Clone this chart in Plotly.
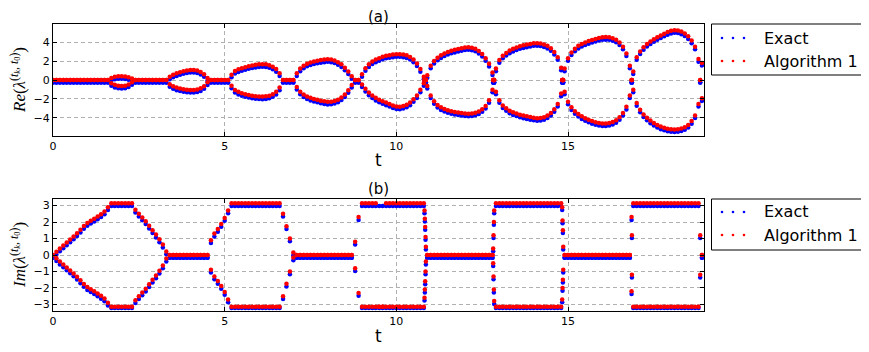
import numpy as np
import plotly.graph_objects as go

# sample times (step 0.1) and extra samples where the eigenvalues jump
T = np.round(np.arange(190) * 0.1, 2)

RE_EXACT_UP = [
    -0.27, -0.27, -0.27, -0.27, -0.27, -0.27, -0.27, -0.27, -0.27, -0.27,
    -0.27, -0.27, -0.27, -0.27, -0.27, -0.27, -0.27, -0.05, 0.08, 0.12,
    0.12, 0.10, 0.02, -0.12, -0.27, -0.27, -0.27, -0.27, -0.27, -0.27,
    -0.27, -0.27, -0.27, -0.27, 0.08, 0.28, 0.43, 0.55, 0.65, 0.73,
    0.78, 0.78, 0.73, 0.58, 0.33, -0.07, -0.27, -0.27, -0.27, -0.27,
    -0.27, -0.27, 0.28, 0.68, 0.85, 0.98, 1.08, 1.18, 1.26, 1.33,
    1.38, 1.40, 1.38, 1.28, 1.13, 0.88, 0.43, -0.27, -0.27, -0.27,
    -0.27, 0.43, 0.93, 1.23, 1.45, 1.58, 1.68, 1.76, 1.83, 1.88,
    1.91, 1.88, 1.78, 1.61, 1.38, 1.03, 0.63, 0.13, -0.27, -0.27,
    0.33, 0.98, 1.38, 1.68, 1.88, 2.03, 2.18, 2.28, 2.35, 2.41,
    2.45, 2.45, 2.41, 2.33, 2.15, 1.88, 1.48, 0.88, 0.08, 0.23,
    1.23, 1.73, 2.08, 2.33, 2.53, 2.68, 2.81, 2.91, 3.00, 3.08,
    3.15, 3.18, 3.13, 3.03, 2.78, 2.48, 2.03, 1.43, 0.53, 0.93,
    1.83, 2.28, 2.58, 2.83, 3.01, 3.15, 3.28, 3.38, 3.46, 3.53,
    3.60, 3.61, 3.58, 3.48, 3.33, 3.08, 2.68, 2.13, 1.03, 0.93,
    2.03, 2.63, 3.03, 3.33, 3.53, 3.68, 3.83, 3.95, 4.05, 4.15,
    4.23, 4.25, 4.23, 4.13, 3.98, 3.68, 3.23, 2.53, 1.23, 0.63,
    2.13, 2.73, 3.18, 3.53, 3.78, 4.03, 4.23, 4.43, 4.61, 4.78,
    4.91, 4.98, 4.95, 4.83, 4.63, 4.33, 3.88, 3.23, 1.93, 1.53,
]
RE_EXACT_LO = [
    -0.27, -0.27, -0.27, -0.27, -0.27, -0.27, -0.27, -0.27, -0.27, -0.27,
    -0.27, -0.27, -0.27, -0.27, -0.27, -0.27, -0.27, -0.60, -0.78, -0.88,
    -0.90, -0.87, -0.75, -0.50, -0.27, -0.27, -0.27, -0.27, -0.27, -0.27,
    -0.27, -0.27, -0.27, -0.27, -0.72, -0.92, -1.07, -1.17, -1.25, -1.29,
    -1.32, -1.32, -1.27, -1.15, -0.92, -0.52, -0.27, -0.27, -0.27, -0.27,
    -0.27, -0.27, -0.87, -1.32, -1.52, -1.67, -1.77, -1.85, -1.92, -1.97,
    -2.00, -2.02, -1.99, -1.92, -1.77, -1.52, -1.07, -0.27, -0.27, -0.27,
    -0.27, -1.00, -1.50, -1.80, -2.00, -2.15, -2.27, -2.35, -2.45, -2.52,
    -2.57, -2.55, -2.48, -2.35, -2.12, -1.80, -1.35, -0.80, -0.27, -0.27,
    -0.75, -1.20, -1.60, -1.90, -2.15, -2.35, -2.50, -2.65, -2.80, -2.95,
    -3.05, -3.08, -3.00, -2.88, -2.65, -2.30, -1.90, -1.30, -0.60, -0.90,
    -1.90, -2.50, -2.90, -3.15, -3.32, -3.45, -3.55, -3.63, -3.70, -3.75,
    -3.80, -3.82, -3.80, -3.72, -3.58, -3.35, -3.00, -2.40, -1.30, -1.50,
    -2.40, -2.95, -3.25, -3.50, -3.68, -3.80, -3.92, -4.02, -4.10, -4.18,
    -4.25, -4.30, -4.28, -4.20, -4.00, -3.75, -3.35, -2.80, -1.70, -1.50,
    -2.55, -3.15, -3.55, -3.85, -4.10, -4.30, -4.45, -4.60, -4.72, -4.80,
    -4.85, -4.85, -4.80, -4.70, -4.50, -4.20, -3.75, -3.10, -1.90, -1.30,
    -2.70, -3.40, -3.90, -4.25, -4.55, -4.80, -5.00, -5.18, -5.30, -5.40,
    -5.45, -5.48, -5.45, -5.38, -5.25, -5.00, -4.60, -4.00, -2.80, -2.20,
]
RE_ALG_UP = [
    0.0, 0.0, 0.0, 0.0, 0.0, 0.0, 0.0, 0.0, 0.0, 0.0,
    0.0, 0.0, 0.0, 0.0, 0.0, 0.0, 0.0, 0.22, 0.35, 0.40,
    0.40, 0.37, 0.30, 0.15, 0.0, 0.0, 0.0, 0.0, 0.0, 0.0,
    0.0, 0.0, 0.0, 0.0, 0.35, 0.55, 0.70, 0.82, 0.92, 1.00,
    1.05, 1.05, 1.00, 0.85, 0.60, 0.20, 0.0, 0.0, 0.0, 0.0,
    0.0, 0.0, 0.55, 0.95, 1.12, 1.25, 1.35, 1.45, 1.53, 1.60,
    1.65, 1.67, 1.65, 1.55, 1.40, 1.15, 0.70, 0.0, 0.0, 0.0,
    0.0, 0.70, 1.20, 1.50, 1.72, 1.85, 1.95, 2.03, 2.10, 2.15,
    2.18, 2.15, 2.05, 1.88, 1.65, 1.30, 0.90, 0.40, 0.0, 0.0,
    0.60, 1.25, 1.65, 1.95, 2.15, 2.30, 2.45, 2.55, 2.62, 2.68,
    2.72, 2.72, 2.68, 2.60, 2.42, 2.15, 1.75, 1.15, 0.35, 0.50,
    1.50, 2.00, 2.35, 2.60, 2.80, 2.95, 3.08, 3.18, 3.27, 3.35,
    3.42, 3.45, 3.40, 3.30, 3.05, 2.75, 2.30, 1.70, 0.80, 1.20,
    2.10, 2.55, 2.85, 3.10, 3.28, 3.42, 3.55, 3.65, 3.73, 3.80,
    3.87, 3.88, 3.85, 3.75, 3.60, 3.35, 2.95, 2.40, 1.30, 1.20,
    2.30, 2.90, 3.30, 3.60, 3.80, 3.95, 4.10, 4.22, 4.32, 4.42,
    4.50, 4.52, 4.50, 4.40, 4.25, 3.95, 3.50, 2.80, 1.50, 0.90,
    2.40, 3.00, 3.45, 3.80, 4.05, 4.30, 4.50, 4.70, 4.88, 5.05,
    5.18, 5.25, 5.22, 5.10, 4.90, 4.60, 4.15, 3.50, 2.20, 1.80,
]
RE_ALG_LO = [
    0.0, 0.0, 0.0, 0.0, 0.0, 0.0, 0.0, 0.0, 0.0, 0.0,
    0.0, 0.0, 0.0, 0.0, 0.0, 0.0, 0.0, -0.33, -0.51, -0.61,
    -0.63, -0.60, -0.48, -0.23, 0.0, 0.0, 0.0, 0.0, 0.0, 0.0,
    0.0, 0.0, 0.0, 0.0, -0.45, -0.65, -0.80, -0.90, -0.98, -1.02,
    -1.05, -1.05, -1.00, -0.88, -0.65, -0.25, 0.0, 0.0, 0.0, 0.0,
    0.0, 0.0, -0.60, -1.05, -1.25, -1.40, -1.50, -1.58, -1.65, -1.70,
    -1.73, -1.75, -1.72, -1.65, -1.50, -1.25, -0.80, 0.0, 0.0, 0.0,
    0.0, -0.73, -1.23, -1.53, -1.73, -1.88, -2.00, -2.08, -2.18, -2.25,
    -2.30, -2.28, -2.21, -2.08, -1.85, -1.53, -1.08, -0.53, 0.0, 0.0,
    -0.48, -0.93, -1.33, -1.63, -1.88, -2.08, -2.23, -2.38, -2.53, -2.68,
    -2.78, -2.81, -2.73, -2.61, -2.38, -2.03, -1.63, -1.03, -0.33, -0.63,
    -1.63, -2.23, -2.63, -2.88, -3.05, -3.18, -3.28, -3.36, -3.43, -3.48,
    -3.53, -3.55, -3.53, -3.45, -3.31, -3.08, -2.73, -2.13, -1.03, -1.23,
    -2.13, -2.68, -2.98, -3.23, -3.41, -3.53, -3.65, -3.75, -3.83, -3.91,
    -3.98, -4.03, -4.01, -3.93, -3.73, -3.48, -3.08, -2.53, -1.43, -1.23,
    -2.28, -2.88, -3.28, -3.58, -3.83, -4.03, -4.18, -4.33, -4.45, -4.53,
    -4.58, -4.58, -4.53, -4.43, -4.23, -3.93, -3.48, -2.83, -1.63, -1.03,
    -2.43, -3.13, -3.63, -3.98, -4.28, -4.53, -4.73, -4.91, -5.03, -5.13,
    -5.18, -5.21, -5.18, -5.11, -4.98, -4.73, -4.33, -3.73, -2.53, -1.93,
]

IM_EXACT_UP = [
    -0.17, 0.03, 0.23, 0.41, 0.59, 0.77, 0.95, 1.15, 1.37, 1.59,
    1.78, 1.91, 2.03, 2.17, 2.31, 2.47, 2.73, 2.97, 2.97, 2.97,
    2.97, 2.97, 2.97, 2.97, 2.58, 2.33, 2.11, 1.88, 1.61, 1.33,
    1.07, 0.78, 0.46, 0.05, -0.17, -0.17, -0.17, -0.17, -0.17, -0.17,
    -0.17, -0.17, -0.17, -0.17, -0.17, -0.17, 0.73, 1.13, 1.41, 1.71,
    2.08, 2.53, 2.97, 2.97, 2.97, 2.97, 2.97, 2.97, 2.97, 2.97,
    2.97, 2.97, 2.97, 2.97, 2.97, 2.97, 2.97, 2.33, 1.58, 0.83,
    -0.02, -0.17, -0.17, -0.17, -0.17, -0.17, -0.17, -0.17, -0.17, -0.17,
    -0.17, -0.17, -0.17, -0.17, -0.17, -0.17, -0.17, -0.17, 0.63, 2.13,
    2.97, 2.97, 2.97, 2.97, 2.97, 2.97, 2.97, 2.97, 2.97, 2.97,
    2.97, 2.97, 2.97, 2.97, 2.97, 2.97, 2.97, 2.97, 2.97, -0.17,
    -0.17, -0.17, -0.17, -0.17, -0.17, -0.17, -0.17, -0.17, -0.17, -0.17,
    -0.17, -0.17, -0.17, -0.17, -0.17, -0.17, -0.17, -0.17, -0.17, 2.97,
    2.97, 2.97, 2.97, 2.97, 2.97, 2.97, 2.97, 2.97, 2.97, 2.97,
    2.97, 2.97, 2.97, 2.97, 2.97, 2.97, 2.97, 2.97, 2.97, -0.17,
    -0.17, -0.17, -0.17, -0.17, -0.17, -0.17, -0.17, -0.17, -0.17, -0.17,
    -0.17, -0.17, -0.17, -0.17, -0.17, -0.17, -0.17, -0.17, -0.17, 2.97,
    2.97, 2.97, 2.97, 2.97, 2.97, 2.97, 2.97, 2.97, 2.97, 2.97,
    2.97, 2.97, 2.97, 2.97, 2.97, 2.97, 2.97, 2.97, 2.97, -0.17,
]
IM_EXACT_LO = [
    -0.17, -0.37, -0.57, -0.75, -0.93, -1.11, -1.29, -1.49, -1.71, -1.93,
    -2.12, -2.25, -2.37, -2.51, -2.65, -2.81, -3.07, -3.22, -3.22, -3.22,
    -3.22, -3.22, -3.22, -3.22, -2.92, -2.67, -2.45, -2.22, -1.95, -1.67,
    -1.41, -1.12, -0.80, -0.39, -0.17, -0.17, -0.17, -0.17, -0.17, -0.17,
    -0.17, -0.17, -0.17, -0.17, -0.17, -0.17, -1.07, -1.47, -1.75, -2.05,
    -2.42, -2.87, -3.22, -3.22, -3.22, -3.22, -3.22, -3.22, -3.22, -3.22,
    -3.22, -3.22, -3.22, -3.22, -3.22, -3.22, -3.22, -2.67, -1.92, -1.17,
    -0.32, -0.17, -0.17, -0.17, -0.17, -0.17, -0.17, -0.17, -0.17, -0.17,
    -0.17, -0.17, -0.17, -0.17, -0.17, -0.17, -0.17, -0.17, -0.97, -2.47,
    -3.22, -3.22, -3.22, -3.22, -3.22, -3.22, -3.22, -3.22, -3.22, -3.22,
    -3.22, -3.22, -3.22, -3.22, -3.22, -3.22, -3.22, -3.22, -3.22, -0.17,
    -0.17, -0.17, -0.17, -0.17, -0.17, -0.17, -0.17, -0.17, -0.17, -0.17,
    -0.17, -0.17, -0.17, -0.17, -0.17, -0.17, -0.17, -0.17, -0.17, -3.22,
    -3.22, -3.22, -3.22, -3.22, -3.22, -3.22, -3.22, -3.22, -3.22, -3.22,
    -3.22, -3.22, -3.22, -3.22, -3.22, -3.22, -3.22, -3.22, -3.22, -0.17,
    -0.17, -0.17, -0.17, -0.17, -0.17, -0.17, -0.17, -0.17, -0.17, -0.17,
    -0.17, -0.17, -0.17, -0.17, -0.17, -0.17, -0.17, -0.17, -0.17, -3.22,
    -3.22, -3.22, -3.22, -3.22, -3.22, -3.22, -3.22, -3.22, -3.22, -3.22,
    -3.22, -3.22, -3.22, -3.22, -3.22, -3.22, -3.22, -3.22, -3.22, -0.17,
]
IM_ALG_UP = [
    0.0, 0.20, 0.40, 0.58, 0.76, 0.94, 1.12, 1.32, 1.54, 1.76,
    1.95, 2.08, 2.20, 2.34, 2.48, 2.64, 2.90, 3.14, 3.14, 3.14,
    3.14, 3.14, 3.14, 3.14, 2.75, 2.50, 2.28, 2.05, 1.78, 1.50,
    1.24, 0.95, 0.63, 0.22, 0.0, 0.0, 0.0, 0.0, 0.0, 0.0,
    0.0, 0.0, 0.0, 0.0, 0.0, 0.0, 0.90, 1.30, 1.58, 1.88,
    2.25, 2.70, 3.14, 3.14, 3.14, 3.14, 3.14, 3.14, 3.14, 3.14,
    3.14, 3.14, 3.14, 3.14, 3.14, 3.14, 3.14, 2.50, 1.75, 1.00,
    0.15, 0.0, 0.0, 0.0, 0.0, 0.0, 0.0, 0.0, 0.0, 0.0,
    0.0, 0.0, 0.0, 0.0, 0.0, 0.0, 0.0, 0.0, 0.80, 2.30,
    3.14, 3.14, 3.14, 3.14, 3.14, -3.14, -3.14, 3.14, 3.14, 3.14,
    3.14, 3.14, 3.14, 3.14, 3.14, 3.14, 3.14, 3.14, 3.14, 0.0,
    0.0, 0.0, 0.0, 0.0, 0.0, 0.0, 0.0, 0.0, 0.0, 0.0,
    0.0, 0.0, 0.0, 0.0, 0.0, 0.0, 0.0, 0.0, 0.0, 3.14,
    3.14, 3.14, 3.14, 3.14, 3.14, 3.14, 3.14, 3.14, 3.14, 3.14,
    3.14, 3.14, 3.14, 3.14, 3.14, 3.14, 3.14, 3.14, 3.14, 0.0,
    0.0, 0.0, 0.0, 0.0, 0.0, 0.0, 0.0, 0.0, 0.0, 0.0,
    0.0, 0.0, 0.0, 0.0, 0.0, 0.0, 0.0, 0.0, 0.0, 3.14,
    3.14, 3.14, 3.14, 3.14, 3.14, 3.14, 3.14, 3.14, 3.14, 3.14,
    3.14, 3.14, 3.14, 3.14, 3.14, 3.14, 3.14, 3.14, 3.14, 0.0,
]
IM_ALG_LO = [
    0.0, -0.20, -0.40, -0.58, -0.76, -0.94, -1.12, -1.32, -1.54, -1.76,
    -1.95, -2.08, -2.20, -2.34, -2.48, -2.64, -2.90, -3.14, -3.14, -3.14,
    -3.14, -3.14, -3.14, -3.14, -2.75, -2.50, -2.28, -2.05, -1.78, -1.50,
    -1.24, -0.95, -0.63, -0.22, 0.0, 0.0, 0.0, 0.0, 0.0, 0.0,
    0.0, 0.0, 0.0, 0.0, 0.0, 0.0, -0.90, -1.30, -1.58, -1.88,
    -2.25, -2.70, -3.14, -3.14, -3.14, -3.14, -3.14, -3.14, -3.14, -3.14,
    -3.14, -3.14, -3.14, -3.14, -3.14, -3.14, -3.14, -2.50, -1.75, -1.00,
    -0.15, 0.0, 0.0, 0.0, 0.0, 0.0, 0.0, 0.0, 0.0, 0.0,
    0.0, 0.0, 0.0, 0.0, 0.0, 0.0, 0.0, 0.0, -0.80, -2.30,
    -3.14, -3.14, -3.14, -3.14, -3.14, -3.14, -3.14, -3.14, -3.14, -3.14,
    -3.14, -3.14, -3.14, -3.14, -3.14, -3.14, -3.14, -3.14, -3.14, 0.0,
    0.0, 0.0, 0.0, 0.0, 0.0, 0.0, 0.0, 0.0, 0.0, 0.0,
    0.0, 0.0, 0.0, 0.0, 0.0, 0.0, 0.0, 0.0, 0.0, -3.14,
    -3.14, -3.14, -3.14, -3.14, -3.14, -3.14, -3.14, -3.14, -3.14, -3.14,
    -3.14, -3.14, -3.14, -3.14, -3.14, -3.14, -3.14, -3.14, -3.14, 0.0,
    0.0, 0.0, 0.0, 0.0, 0.0, 0.0, 0.0, 0.0, 0.0, 0.0,
    0.0, 0.0, 0.0, 0.0, 0.0, 0.0, 0.0, 0.0, 0.0, -3.14,
    -3.14, -3.14, -3.14, -3.14, -3.14, -3.14, -3.14, -3.14, -3.14, -3.14,
    -3.14, -3.14, -3.14, -3.14, -3.14, -3.14, -3.14, -3.14, -3.14, 0.0,
]

# short bursts of samples where the pair jumps between Im = 0 and Im = ±pi
JUMP_T = [10.82, 10.83, 10.84, 10.85, 10.86, 12.82, 12.83, 12.84, 12.85,
          14.83, 14.84, 14.85, 14.86, 16.85, 16.86, 18.85]
JUMP_RE_EXACT = [-0.27] * 16
JUMP_RE_ALG = [0.0] * 16
JUMP_IM_EXACT_UP = [2.53, 2.03, 1.53, 0.93, 0.33, 0.23, 1.03, 1.83, 2.53,
                    2.73, 1.93, 1.33, 0.33, 2.13, 1.03, 1.03]
JUMP_IM_EXACT_LO = [-2.77, -2.27, -1.77, -1.17, -0.57, -0.67, -1.47, -2.27, -2.97,
                    -2.87, -2.17, -1.67, -1.07, -2.37, -1.37, -1.37]
JUMP_IM_ALG_UP = [2.70, 2.20, 1.70, 1.10, 0.50, 0.40, 1.20, 2.00, 2.70,
                  2.90, 2.10, 1.50, 0.50, 2.30, 1.20, 1.20]
JUMP_IM_ALG_LO = [-2.60, -2.10, -1.60, -1.00, -0.40, -0.50, -1.30, -2.10, -2.80,
                  -2.70, -2.00, -1.50, -0.90, -2.20, -1.20, -1.20]

SERIES = ["Exact", "Algorithm 1"]
COLORS = ["#0000ff", "#ff0000"]

T_ALL = list(T) + list(T) + JUMP_T + JUMP_T
re_sets = [
    RE_EXACT_UP + RE_EXACT_LO + JUMP_RE_EXACT + JUMP_RE_EXACT,
    RE_ALG_UP + RE_ALG_LO + JUMP_RE_ALG + JUMP_RE_ALG,
]
im_sets = [
    IM_EXACT_UP + IM_EXACT_LO + JUMP_IM_EXACT_UP + JUMP_IM_EXACT_LO,
    IM_ALG_UP + IM_ALG_LO + JUMP_IM_ALG_UP + JUMP_IM_ALG_LO,
]

fig = go.Figure()
for name, color, re_vals, im_vals in zip(SERIES, COLORS, re_sets, im_sets):
    fig.add_trace(go.Scatter(
        x=T_ALL, y=re_vals, mode="markers", name=name, showlegend=False,
        marker=dict(size=4.5, color=color, line=dict(width=0)),
        xaxis="x", yaxis="y",
    ))
    fig.add_trace(go.Scatter(
        x=T_ALL, y=im_vals, mode="markers", name=name, showlegend=False,
        marker=dict(size=4.5, color=color, line=dict(width=0)),
        xaxis="x2", yaxis="y2",
    ))

# the page body has an 8px margin, so the figure is drawn 8px smaller and all
# pixel positions below (taken from the 869x352 target) are shifted by it
OFF = 8
W, H = 869 - OFF, 352 - OFF
ML, MT = 53 - OFF, 24 - OFF
MR, MB = W - (704 - OFF), H - (311 - OFF)
pw, ph = W - ML - MR, H - MT - MB


def px(x):
    return (x - OFF - ML) / pw


def py(y):
    return 1 - (y - OFF - MT) / ph


tick_font = dict(family="DejaVu Sans", size=11, color="black")
axis_common = dict(
    showline=True, linecolor="black", linewidth=1, mirror="ticks",
    ticks="inside", ticklen=4, tickcolor="black", tickfont=tick_font,
    showgrid=True, gridcolor="#b0b0b0", griddash="4px,3px", gridwidth=1,
    zeroline=False,
)

fig.update_layout(
    width=W, height=H,
    margin=dict(l=ML, r=MR, t=MT, b=MB),
    paper_bgcolor="white", plot_bgcolor="white",
    showlegend=False,
    xaxis=dict(axis_common, domain=[0, 1], anchor="y", range=[0, 18.96],
               tickvals=[0, 5, 10, 15]),
    yaxis=dict(axis_common, domain=[py(136), 1], anchor="x", range=[-5.9, 5.9],
               tickvals=[-4, -2, 0, 2, 4]),
    xaxis2=dict(axis_common, domain=[0, 1], anchor="y2", range=[0, 18.96],
                tickvals=[0, 5, 10, 15]),
    yaxis2=dict(axis_common, domain=[0, py(199)], anchor="x2", range=[-3.4, 3.4],
                tickvals=[-3, -2, -1, 0, 1, 2, 3]),
)

ann = []
label_font = dict(family="DejaVu Sans", size=17, color="black")
for title, ty, lx_y in (("(a)", 17, 160), ("(b)", 189, 336)):
    ann.append(dict(x=0.5, y=py(ty), xref="paper", yref="paper", text=title,
                    showarrow=False, font=dict(family="DejaVu Sans", size=15, color="black"),
                    xanchor="center", yanchor="middle"))
    ann.append(dict(x=0.5, y=py(lx_y), xref="paper", yref="paper", text="t",
                    showarrow=False, font=label_font, xanchor="center", yanchor="middle"))

serif = dict(family="Liberation Serif", size=17, color="black")
sup = "(<i>t<sub>k</sub></i>, <i>t</i><sub>0</sub>)"
for word, cy in (("Re", 80), ("Im", 255)):
    ann.append(dict(x=px(18), y=py(cy), xref="paper", yref="paper",
                    text=f"<i>{word}</i>(<i>λ</i><sup>{sup}</sup>)",
                    textangle=-90, showarrow=False, font=serif,
                    xanchor="center", yanchor="middle"))

# legend boxes drawn by hand (three marker dots per entry, like the original)
shapes = []
leg_font = dict(family="DejaVu Sans", size=16, color="black")
for top, bottom, rows in ((24, 75, (38, 61)), (199, 250, (212, 235))):
    shapes.append(dict(type="rect", xref="paper", yref="paper",
                       x0=px(711.5), x1=px(863.5), y0=py(bottom), y1=py(top),
                       line=dict(color="black", width=1), fillcolor="white"))
    for name, color, ry in zip(SERIES, COLORS, rows):
        for dx in (722, 733, 744):
            shapes.append(dict(type="circle", xref="paper", yref="paper",
                               x0=px(dx - 1.3), x1=px(dx + 1.3),
                               y0=py(ry + 1.3), y1=py(ry - 1.3),
                               line=dict(width=0), fillcolor=color))
        ann.append(dict(x=px(762), y=py(ry), xref="paper", yref="paper", text=name,
                        showarrow=False, font=leg_font, xanchor="left", yanchor="middle"))

fig.update_layout(annotations=ann, shapes=shapes)
fig.write_html("out.html")
